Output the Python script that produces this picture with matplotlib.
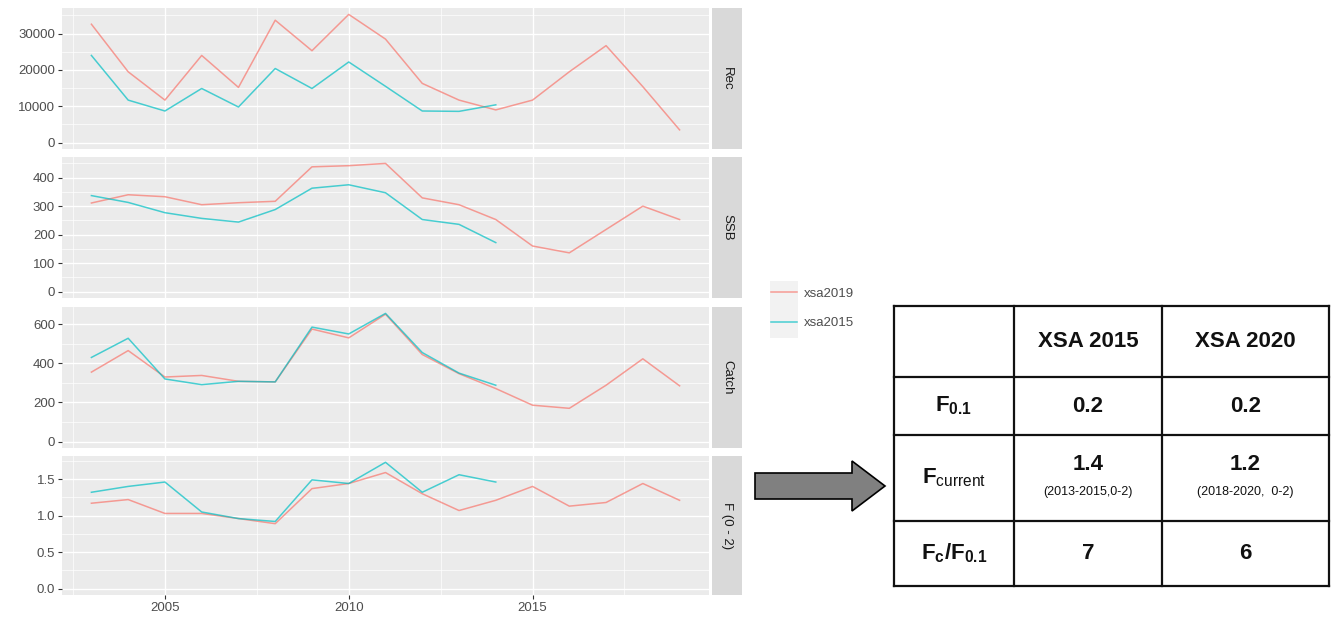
import matplotlib
matplotlib.use("Agg")
import matplotlib.pyplot as plt
from matplotlib.patches import Rectangle, FancyArrow
from matplotlib.ticker import MultipleLocator

# Data
years_2019 = list(range(2003, 2020))
years_2015 = list(range(2003, 2015))

rec_2019 = [32600, 19500, 11700, 24000, 15200, 33700, 25300, 35300, 28500, 16300, 11700, 9000, 11700, 19500, 26700, 15400, 3500]
rec_2015 = [24000, 11700, 8700, 14900, 9800, 20400, 14900, 22200, 15500, 8700, 8600, 10400]

ssb_2019 = [311, 340, 333, 305, 312, 317, 438, 442, 450, 329, 305, 253, 160, 136, 218, 300, 253]
ssb_2015 = [337, 313, 277, 257, 244, 288, 363, 375, 347, 253, 236, 172]

catch_2019 = [355, 465, 330, 338, 308, 305, 575, 530, 651, 445, 347, 271, 186, 170, 288, 423, 285]
catch_2015 = [430, 528, 320, 291, 308, 305, 585, 550, 655, 455, 350, 288]

f_2019 = [1.17, 1.22, 1.03, 1.03, 0.96, 0.89, 1.37, 1.44, 1.59, 1.30, 1.07, 1.21, 1.40, 1.13, 1.18, 1.44, 1.21]
f_2015 = [1.32, 1.40, 1.46, 1.05, 0.96, 0.92, 1.49, 1.44, 1.73, 1.32, 1.56, 1.46]

panel_names = ["Rec", "SSB", "Catch", "F (0 - 2)"]
panel_2019 = [rec_2019, ssb_2019, catch_2019, f_2019]
panel_2015 = [rec_2015, ssb_2015, catch_2015, f_2015]
panel_ticks = [[0, 10000, 20000, 30000], [0, 100, 200, 300, 400], [0, 200, 400, 600], [0.0, 0.5, 1.0, 1.5]]
panel_ticklabels = [["0", "10000", "20000", "30000"], ["0", "100", "200", "300", "400"],
                    ["0", "200", "400", "600"], ["0.0", "0.5", "1.0", "1.5"]]
series_names = ["xsa2019", "xsa2015"]

table_cols = ["XSA 2015", "XSA 2020"]
table_rows = [r"$\mathbf{F_{0.1}}$", r"$\mathbf{F}_{\mathrm{current}}$", r"$\mathbf{F_{c}/F_{0.1}}$"]
table_values = [["0.2", "0.2"], ["1.4", "1.2"], ["7", "6"]]
table_notes = ["(2013-2015,0-2)", "(2018-2020,  0-2)"]

plt.rcParams["font.family"] = ["Liberation Sans", "DejaVu Sans"]
plt.rcParams["mathtext.fontset"] = "custom"
plt.rcParams["mathtext.rm"] = "Liberation Sans"
plt.rcParams["mathtext.bf"] = "Liberation Sans:bold"
plt.rcParams["mathtext.it"] = "Liberation Sans:italic"

W, H = 1332, 623
fig = plt.figure(figsize=(W / 100, H / 100), dpi=100)


def box(x0, y0, x1, y1):
    # pixel box (top-left origin) -> figure fraction rect
    return [x0 / W, 1 - y1 / H, (x1 - x0) / W, (y1 - y0) / H]


red = "#F8766D"
cyan = "#00BFC4"
panel_y = [(8, 149), (157, 298), (307, 448), (456, 595)]
lines = []

for i, name in enumerate(panel_names):
    y0, y1 = panel_y[i]
    ax = fig.add_axes(box(62, y0, 709, y1))
    ax.set_facecolor("#EBEBEB")
    l1, = ax.plot(years_2019, panel_2019[i], color=red, lw=1.1, alpha=0.7)
    l2, = ax.plot(years_2015, panel_2015[i], color=cyan, lw=1.1, alpha=0.7)
    if i == 0:
        lines = [l1, l2]
    top = max(max(panel_2019[i]), max(panel_2015[i]))
    ax.set_ylim(-0.05 * top, 1.05 * top)
    ax.set_xlim(2002.2, 2019.8)
    ax.set_yticks(panel_ticks[i])
    ax.set_yticklabels(panel_ticklabels[i])
    step = panel_ticks[i][1] - panel_ticks[i][0]
    ax.yaxis.set_minor_locator(MultipleLocator(step / 2))
    ax.set_xticks([2005, 2010, 2015])
    ax.xaxis.set_minor_locator(MultipleLocator(2.5))
    ax.grid(which="major", color="white", lw=1.0)
    ax.grid(which="minor", color="white", lw=0.5)
    ax.set_axisbelow(True)
    for s in ax.spines.values():
        s.set_visible(False)
    ax.tick_params(which="minor", length=0)
    ax.tick_params(which="major", length=3, color="#333333", labelcolor="#4D4D4D", labelsize=9.5, pad=2)
    if i < 3:
        ax.tick_params(axis="x", which="both", length=0, labelbottom=False)

    sax = fig.add_axes(box(712, y0, 742, y1))
    sax.set_facecolor("#D9D9D9")
    sax.set_xticks([])
    sax.set_yticks([])
    for s in sax.spines.values():
        s.set_visible(False)
    sax.text(0.5, 0.5, name, rotation=270, ha="center", va="center", fontsize=9.5,
             color="#1A1A1A", transform=sax.transAxes)

# overlay in pixel coordinates for legend keys, arrow and table
ov = fig.add_axes([0, 0, 1, 1], zorder=-1)
ov.set_xlim(0, W)
ov.set_ylim(H, 0)
ov.axis("off")

ov.add_patch(Rectangle((770, 281), 28, 57, facecolor="#F2F2F2", edgecolor="none"))
fig.legend(lines, series_names, loc="upper left", bbox_to_anchor=(768 / W, 1 - 285 / H),
           frameon=False, fontsize=9.5, labelcolor="#4D4D4D", handlelength=2.0,
           handletextpad=0.5, labelspacing=1.3, borderaxespad=0, borderpad=0.2)

ov.add_patch(FancyArrow(755, 486, 130, 0, width=26, head_width=50, head_length=33,
                        length_includes_head=True, facecolor="#808080", edgecolor="black", lw=1.2))

col_x = [894, 1014, 1162, 1329]
row_y = [306, 377, 435, 521, 586]
for x in col_x:
    ov.plot([x, x], [row_y[0], row_y[-1]], color="#111111", lw=1.6, solid_capstyle="projecting")
for y in row_y:
    ov.plot([col_x[0], col_x[-1]], [y, y], color="#111111", lw=1.6, solid_capstyle="projecting")

cx = [(col_x[k] + col_x[k + 1]) / 2 for k in range(3)]
for j, c in enumerate(table_cols):
    ov.text(cx[j + 1], (row_y[0] + row_y[1]) / 2, c, ha="center", va="center",
            fontsize=16, fontweight="bold", color="#111111")
for r, lab in enumerate(table_rows):
    yc = (row_y[r + 1] + row_y[r + 2]) / 2
    ov.text(cx[0], yc, lab, ha="center", va="center", fontsize=16, color="#111111")
    for j in range(2):
        if r == 1:
            ov.text(cx[j + 1], yc - 14, table_values[r][j], ha="center", va="center",
                    fontsize=16, fontweight="bold", color="#111111")
            ov.text(cx[j + 1], yc + 14, table_notes[j], ha="center", va="center",
                    fontsize=9, color="#111111")
        else:
            ov.text(cx[j + 1], yc, table_values[r][j], ha="center", va="center",
                    fontsize=16, fontweight="bold", color="#111111")

fig.savefig("out.png", dpi=100)
